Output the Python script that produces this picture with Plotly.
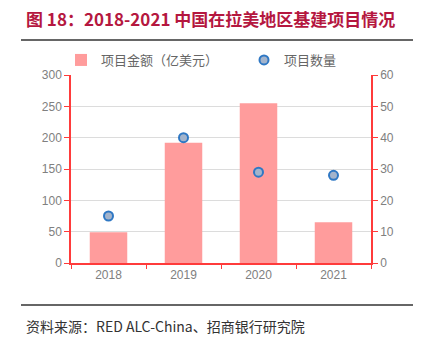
import plotly.graph_objects as go

years = ["2018", "2019", "2020", "2021"]
amount = [49, 192, 255, 65]        # 项目金额（亿美元）
count = [15, 40, 29, 28]           # 项目数量

W, H = 427, 347
L, R, T, B = 71, 56, 75, 84
pw, ph = W - L - R, H - T - B

def px_x(x):
    return (x - L) / pw

def px_y(y):
    return (H - B - y) / ph

red = "#FF3B3B"
grey = "#808080"

fig = go.Figure()
fig.add_trace(go.Bar(x=years, y=amount, name="项目金额（亿美元）",
                     marker=dict(color="#FF9C9C", line=dict(width=0)), width=0.5))
fig.add_trace(go.Scatter(x=years, y=count, name="项目数量", yaxis="y2", mode="markers",
                         marker=dict(size=9, color="#A3B4CC", line=dict(color="#2F78C4", width=2))))

fig.update_layout(
    width=W, height=H,
    margin=dict(l=L, r=R, t=T, b=B),
    paper_bgcolor="white", plot_bgcolor="white",
    font=dict(family="Liberation Sans, Arial, sans-serif", color=grey, size=12),
    showlegend=True,
    legend=dict(orientation="h", x=px_x(70), y=px_y(60), yanchor="middle", xanchor="left",
                font=dict(family="Noto Sans CJK SC", size=13, color="#666666"),
                itemwidth=30, entrywidth=138, bgcolor="rgba(0,0,0,0)"),
    xaxis=dict(type="category", showline=True, linecolor=red, linewidth=1.5,
               ticks="outside", tickson="boundaries", tickcolor=red, ticklen=4,
               showgrid=False, tickfont=dict(color=grey, size=12)),
    yaxis=dict(range=[0, 300], dtick=50, showline=True, linecolor=red, linewidth=1.5,
               ticks="outside", tickcolor=red, ticklen=5, showgrid=True,
               gridcolor="#DCDCDC", gridwidth=1, zeroline=False,
               tickfont=dict(color=grey, size=12)),
    yaxis2=dict(range=[0, 60], dtick=10, overlaying="y", side="right", showline=True,
                linecolor=red, linewidth=1.5, ticks="outside", tickcolor=red, ticklen=5,
                showgrid=False, zeroline=False, tickfont=dict(color=grey, size=12)),
    bargap=0.5,
)

fig.add_annotation(text="<b>图 18：2018-2021 中国在拉美地区基建项目情况</b>",
                   xref="paper", yref="paper", x=px_x(24), y=px_y(18),
                   xanchor="left", yanchor="middle", showarrow=False,
                   font=dict(family="Noto Sans CJK SC", size=17, color="#B5173F"))
fig.add_annotation(text="资料来源：RED ALC-China、招商银行研究院",
                   xref="paper", yref="paper", x=px_x(24), y=px_y(326),
                   xanchor="left", yanchor="middle", showarrow=False,
                   font=dict(family="Noto Sans CJK SC", size=14, color="#333333"))
for yy in (40, 305):
    fig.add_shape(type="line", xref="paper", yref="paper",
                  x0=px_x(21), x1=px_x(413), y0=px_y(yy), y1=px_y(yy),
                  line=dict(color="#666666", width=2))

fig.write_html("out.html")
